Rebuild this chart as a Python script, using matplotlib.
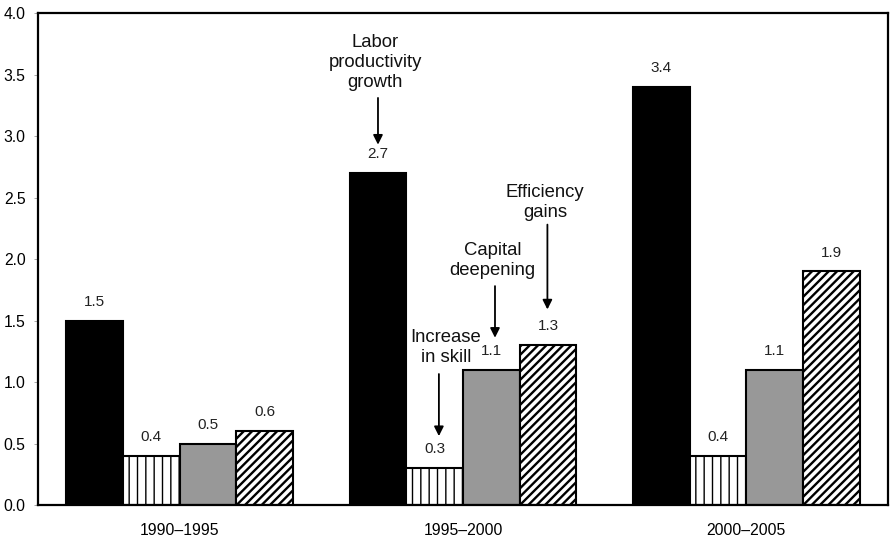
import matplotlib

matplotlib.use("Agg")
import matplotlib.pyplot as plt
import numpy as np

plt.rcParams["font.family"] = ["Liberation Sans", "DejaVu Sans"]
plt.rcParams["hatch.linewidth"] = 1.7

periods = ["1990\u20131995", "1995\u20132000", "2000\u20132005"]
labor_productivity = [1.5, 2.7, 3.4]
increase_in_skill = [0.4, 0.3, 0.4]
capital_deepening = [0.5, 1.1, 1.1]
efficiency_gains = [0.6, 1.3, 1.9]

series = [
    (labor_productivity, "black", None),
    (increase_in_skill, "white", "||"),
    (capital_deepening, "#989898", None),
    (efficiency_gains, "white", "////"),
]

fig = plt.figure(figsize=(8.9, 5.4), dpi=100)
ax = fig.add_axes([0.0427, 0.0648, 0.955, 0.911])

x = np.arange(len(periods))
width = 0.2
offsets = [-1.5, -0.5, 0.5, 1.5]

for (vals, color, hatch), off in zip(series, offsets):
    bars = ax.bar(
        x + off * width,
        vals,
        width,
        color=color,
        edgecolor="black",
        linewidth=1.5,
        hatch=hatch,
    )
    if hatch == "||":
        for b in bars:
            if hasattr(b, "set_hatch_linewidth"):
                b.set_hatch_linewidth(1.0)
    for bar in bars:
        h = bar.get_height()
        ax.annotate(
            f"{h:.1f}",
            xy=(bar.get_x() + bar.get_width() / 2, h),
            xytext=(0, 13.5),
            textcoords="offset points",
            ha="center",
            va="center",
            fontsize=11,
            color="#222222",
        )

# callouts in the middle group: text, text x, text y, arrow x, arrow start, arrow tip
arrow = dict(arrowstyle="-|>", color="black", lw=1.3, mutation_scale=14, shrinkA=0, shrinkB=0)
callouts = [
    ("Labor\nproductivity\ngrowth", 0.69, 3.60, 0.70, 3.31, 2.93),
    ("Increase\nin skill", 0.94, 1.28, 0.915, 1.065, 0.56),
    ("Capital\ndeepening", 1.105, 1.99, 1.113, 1.78, 1.36),
    ("Efficiency\ngains", 1.29, 2.46, 1.298, 2.28, 1.59),
]
for text, tx, ty, axx, y0, y1 in callouts:
    ax.text(tx, ty, text, ha="center", va="center", fontsize=13.3,
            linespacing=1.25, color="#111111")
    ax.annotate("", xy=(axx, y1), xytext=(axx, y0), arrowprops=arrow)

ax.set_xlim(-0.5, 2.5)
ax.set_ylim(0, 4.0)
yt = np.arange(0, 4.01, 0.5)
ax.set_yticks(yt)
ax.set_yticklabels([f"{v:.1f}" for v in yt])
ax.set_xticks(x)
ax.set_xticklabels(periods)
ax.tick_params(axis="x", length=0, pad=13, labelsize=11.3)
ax.tick_params(axis="y", length=3, width=0.6, color="#999999", pad=6, labelsize=11.3)

for s in ax.spines.values():
    s.set_linewidth(1.6)

plt.savefig("out.png", dpi=100)
